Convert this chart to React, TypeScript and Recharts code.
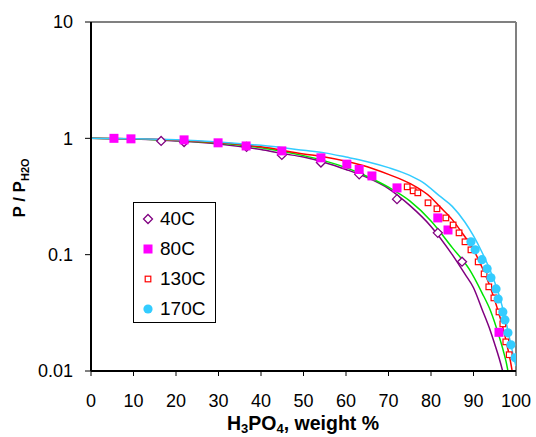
import React from 'react';
import { ComposedChart, Line, Scatter, XAxis, YAxis, ReferenceLine } from 'recharts';

const xTicks = [0, 10, 20, 30, 40, 50, 60, 70, 80, 90, 100];
const yTicks = [0.01, 0.1, 1, 10];

// model curves (weight %, P/PH2O)
const line40W = [0, 10, 20, 30, 40, 45, 50, 55, 60, 65, 70, 75, 80, 85, 88, 90, 92, 94, 95, 96, 97, 97.6];
const line40P = [1.0, 0.985, 0.95, 0.895, 0.8, 0.74, 0.69, 0.62, 0.54, 0.46, 0.37, 0.265, 0.175, 0.1, 0.068, 0.052, 0.034, 0.022, 0.017, 0.013, 0.0095, 0.0075];

const line80W = [0, 10, 20, 30, 40, 50, 55, 60, 65, 70, 75, 80, 85, 89, 92, 94, 96, 97, 98, 98.6];
const line80P = [1.0, 0.988, 0.96, 0.91, 0.83, 0.71, 0.64, 0.56, 0.47, 0.38, 0.29, 0.195, 0.115, 0.075, 0.047, 0.033, 0.02, 0.015, 0.0105, 0.0075];

const line130W = [0, 10, 20, 30, 40, 50, 55, 60, 65, 70, 75, 80, 82, 85, 87, 90, 92, 94, 96, 97, 98, 99, 99.6];
const line130P = [1.0, 0.99, 0.965, 0.92, 0.845, 0.735, 0.69, 0.635, 0.57, 0.49, 0.41, 0.31, 0.26, 0.2, 0.16, 0.11, 0.078, 0.052, 0.031, 0.023, 0.016, 0.0105, 0.0075];

const line170W = [0, 10, 20, 30, 40, 50, 55, 60, 65, 70, 75, 78, 82, 85, 88, 90, 92, 94, 96, 97.5, 98.5, 99.5, 100];
const line170P = [1.0, 0.99, 0.97, 0.93, 0.87, 0.79, 0.75, 0.69, 0.63, 0.56, 0.48, 0.42, 0.32, 0.26, 0.19, 0.145, 0.105, 0.072, 0.045, 0.028, 0.019, 0.013, 0.011];

// measured points
const pts40W = [16.5, 21.9, 36.6, 44.9, 54.1, 63.1, 72, 81.6, 87.3];
const pts40P = [0.95, 0.93, 0.845, 0.72, 0.62, 0.49, 0.3, 0.154, 0.087];

const pts80W = [5.4, 9.4, 21.9, 29.9, 36.5, 44.9, 54.1, 60.2, 63.1, 66.1, 72, 81.6, 84, 96];
const pts80P = [1.0, 0.99, 0.97, 0.915, 0.86, 0.78, 0.68, 0.6, 0.54, 0.475, 0.375, 0.207, 0.163, 0.0215];

const pts130W = [74.4, 75.8, 76.9, 79.3, 81.4, 83.5, 85.2, 86.6, 88.0, 89.4, 91.1, 92.5, 93.6, 94.8, 96.0, 96.9, 97.6, 98.4];
const pts130P = [0.383, 0.354, 0.34, 0.279, 0.248, 0.207, 0.18, 0.154, 0.129, 0.11, 0.0867, 0.0684, 0.0529, 0.0425, 0.0322, 0.0254, 0.0178, 0.0138];

const pts170W = [89.4, 90.4, 92.0, 93.2, 94.1, 95.3, 95.8, 96.9, 97.4, 98.1, 98.8, 99.8];
const pts170P = [0.129, 0.11, 0.0906, 0.0756, 0.0633, 0.0508, 0.0416, 0.0322, 0.0275, 0.0213, 0.0168, 0.013];

const seriesNames = ['40C', '80C', '130C', '170C'];

const zip = (xs: number[], ys: number[]) => xs.map((x, i) => ({ x, y: ys[i] }));

const PURPLE = '#800080';
const GREEN = '#00E400';
const RED = '#FF0000';
const CYAN = '#33CCFF';
const MAGENTA = '#FF00FF';

const Diamond = (p: any) => {
  const { cx, cy } = p;
  if (cx == null || cy == null) return null;
  const r = 4.5;
  return <path d={`M${cx},${cy - r}L${cx + r},${cy}L${cx},${cy + r}L${cx - r},${cy}Z`} fill="#fff" stroke={PURPLE} strokeWidth={1.3} />;
};
const FilledSquare = (p: any) => {
  const { cx, cy } = p;
  if (cx == null || cy == null) return null;
  return <rect x={cx - 4.5} y={cy - 4.5} width={9} height={9} fill={MAGENTA} />;
};
const HollowSquare = (p: any) => {
  const { cx, cy } = p;
  if (cx == null || cy == null) return null;
  return <rect x={cx - 2.8} y={cy - 2.8} width={5.6} height={5.6} fill="#fff" stroke={RED} strokeWidth={1.2} />;
};
const Dot = (p: any) => {
  const { cx, cy } = p;
  if (cx == null || cy == null) return null;
  return <circle cx={cx} cy={cy} r={4.6} fill={CYAN} />;
};

const FONT = '"Liberation Sans", Arial, sans-serif';

const XLabel = () => (
  <text x={303} y={430} textAnchor="middle" fontWeight="bold" fontSize={19.5} fill="#000" fontFamily={FONT}>
    H<tspan dy={3} fontSize={13}>3</tspan>
    <tspan dy={-3}>PO</tspan>
    <tspan dy={3} fontSize={13}>4</tspan>
    <tspan dy={-3}>, weight %</tspan>
  </text>
);

const YLabel = () => (
  <text x={0} y={0} transform="translate(25,188) rotate(-90)" textAnchor="middle" fontWeight="bold" fontSize={17} fill="#000" fontFamily={FONT}>
    P / P<tspan dy={4} fontSize={11}>H2O</tspan>
  </text>
);

const legendItems = [
  { name: seriesNames[0], icon: <path d="M6,1.5L10.5,6L6,10.5L1.5,6Z" fill="#fff" stroke={PURPLE} strokeWidth={1.3} /> },
  { name: seriesNames[1], icon: <rect x={1.5} y={1.5} width={9} height={9} fill={MAGENTA} /> },
  { name: seriesNames[2], icon: <rect x={3.2} y={3.2} width={5.6} height={5.6} fill="#fff" stroke={RED} strokeWidth={1.2} /> },
  { name: seriesNames[3], icon: <circle cx={6} cy={6} r={4.6} fill={CYAN} /> },
];

export default function App() {
  return (
    <div style={{ position: 'absolute', left: 0, top: 0, width: 536, height: 437, background: '#fff', fontFamily: FONT }}>
      <ComposedChart width={536} height={437} margin={{ top: 22, right: 20, bottom: 0, left: 0 }}>
        <XAxis
          type="number"
          dataKey="x"
          domain={[0, 100]}
          ticks={xTicks}
          allowDataOverflow
          height={66}
          tickSize={5}
          tickMargin={18}
          axisLine={{ stroke: '#000', strokeWidth: 2 }}
          tickLine={{ stroke: '#000' }}
          tick={{ fill: '#000', fontSize: 18, fontFamily: FONT }}
          label={XLabel}
        />
        <YAxis
          type="number"
          dataKey="y"
          scale="log"
          domain={[0.01, 10]}
          ticks={yTicks}
          allowDataOverflow
          width={91}
          tickSize={6}
          tickMargin={12}
          axisLine={{ stroke: '#000', strokeWidth: 2 }}
          tickLine={{ stroke: '#000' }}
          tick={{ fill: '#000', fontSize: 18, fontFamily: FONT }}
          label={YLabel}
        />
        <ReferenceLine y={10} stroke="#808080" strokeWidth={2} />
        <ReferenceLine x={100} stroke="#808080" strokeWidth={2} />
        <Line data={zip(line40W, line40P)} dataKey="y" type="monotone" stroke={PURPLE} strokeWidth={1.5} dot={false} isAnimationActive={false} />
        <Line data={zip(line80W, line80P)} dataKey="y" type="monotone" stroke={GREEN} strokeWidth={1.5} dot={false} isAnimationActive={false} />
        <Line data={zip(line130W, line130P)} dataKey="y" type="monotone" stroke={RED} strokeWidth={1.5} dot={false} isAnimationActive={false} />
        <Line data={zip(line170W, line170P)} dataKey="y" type="monotone" stroke={CYAN} strokeWidth={1.5} dot={false} isAnimationActive={false} />
        <Scatter data={zip(pts40W, pts40P)} dataKey="y" shape={Diamond} isAnimationActive={false} />
        <Scatter data={zip(pts80W, pts80P)} dataKey="y" shape={FilledSquare} isAnimationActive={false} />
        <Scatter data={zip(pts130W, pts130P)} dataKey="y" shape={HollowSquare} isAnimationActive={false} />
        <Scatter data={zip(pts170W, pts170P)} dataKey="y" shape={Dot} isAnimationActive={false} />
      </ComposedChart>
      <div
        style={{
          position: 'absolute', left: 133, top: 202, width: 81, height: 119,
          border: '1px solid #000', background: '#fff', boxSizing: 'content-box',
        }}
      >
        {legendItems.map((it, i) => (
          <div key={it.name} style={{ position: 'absolute', left: 8, top: 6 + i * 30, height: 20, display: 'flex', alignItems: 'center' }}>
            <svg width={12} height={12} style={{ display: 'block' }}>{it.icon}</svg>
            <span style={{ marginLeft: 6, fontSize: 19, lineHeight: '20px', color: '#000' }}>{it.name}</span>
          </div>
        ))}
      </div>
    </div>
  );
}
